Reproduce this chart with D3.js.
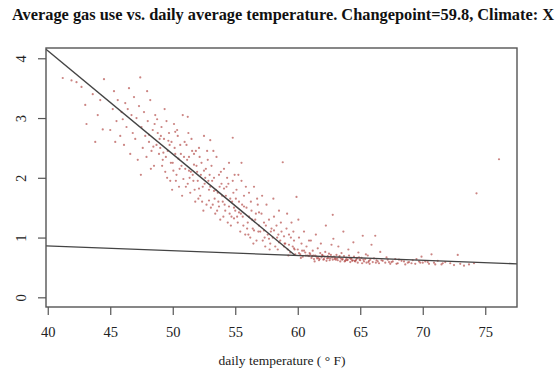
<!DOCTYPE html>
<html>
<head>
<meta charset="utf-8">
<script src="https://cdn.jsdelivr.net/npm/d3@7"></script>
<style>
    body { margin: 0; background: #fff; }
    svg { display: block; }
</style>
</head>
<body>
<svg id="chart"></svg>
<script>
// daily readings: [temperature (F), gas use]
const readings = [
    [41.2,3.67],[41.9,3.63],[42.3,3.60],[42.7,3.52],[43.0,3.22],[43.1,2.90],[43.6,3.40],[44.0,3.05],[44.4,2.81],[44.5,3.65],[44.2,3.30],[43.8,2.60],
    [45.0,2.80],[45.2,3.15],[45.3,3.45],[45.5,2.95],[45.6,3.30],[45.8,2.70],[45.9,3.10],[46.1,2.55],[46.2,3.25],[46.3,2.85],[46.5,3.50],[46.6,2.40],[46.7,3.05],[46.8,2.75],[46.9,3.35],[45.4,2.60],[46.0,2.98],[46.4,3.15],
    [47.0,2.65],[47.1,3.00],[47.2,2.30],[47.3,3.20],[47.4,3.68],[47.5,2.85],[47.6,2.50],[47.7,3.10],[47.8,2.70],[47.9,2.35],[48.0,2.95],[48.1,2.60],[48.2,3.30],[48.3,2.45],[48.4,2.80],[48.5,2.20],[48.6,3.05],[48.7,2.55],[48.8,2.75],[48.9,2.40],[47.45,2.05],[48.25,2.15],[47.95,3.45],[48.55,2.90],[48.95,2.65],
    [49.0,2.50],[49.1,2.85],[49.2,2.30],[49.3,2.65],[49.4,2.10],[49.5,2.95],[49.6,2.45],[49.7,2.75],[49.8,1.95],[49.9,2.60],[50.0,2.25],[50.1,2.90],[50.2,2.40],[50.3,2.05],[50.4,2.70],[50.5,1.85],[50.6,2.55],[50.7,2.20],[50.8,3.05],[50.9,2.35],
    [49.15,2.20],[49.35,3.15],[49.55,2.00],[49.75,2.55],[49.95,1.80],[50.15,2.50],[50.35,2.80],[50.55,2.15],[50.75,1.70],[50.95,2.60],[49.05,2.70],[49.45,2.35],[49.85,2.25],[50.25,1.95],[50.65,2.40],[50.2,2.77],
    [51.0,2.15],[51.1,2.55],[51.2,1.90],[51.3,2.35],[51.4,1.75],[51.5,2.65],[51.6,2.05],[51.7,2.40],[51.8,1.60],[51.9,2.20],[52.0,1.95],[52.1,2.50],[52.2,1.70],[52.3,2.25],[52.4,1.85],[52.5,2.70],[52.6,2.00],[52.7,1.55],[52.8,2.30],[52.9,1.80],
    [51.05,1.85],[51.25,2.75],[51.45,2.10],[51.65,1.95],[51.85,2.45],[52.05,1.65],[52.25,2.05],[52.45,1.45],[52.65,2.15],[52.85,1.95],[51.15,2.30],[51.35,2.00],[51.55,2.45],[51.75,1.80],[51.95,2.10],[52.15,2.35],[52.35,1.60],[52.55,1.90],[52.75,2.45],[52.95,2.05],[51.2,3.02],
    [53.0,1.85],[53.1,2.20],[53.2,1.55],[53.3,2.00],[53.4,1.40],[53.5,2.35],[53.6,1.75],[53.7,2.05],[53.8,1.30],[53.9,1.90],[54.0,1.60],[54.1,2.15],[54.2,1.45],[54.3,1.85],[54.4,1.25],[54.5,2.25],[54.6,1.65],[54.7,1.35],[54.8,1.95],[54.9,1.50],
    [53.05,1.50],[53.25,2.45],[53.45,1.80],[53.65,1.60],[53.85,2.10],[54.05,1.35],[54.25,1.70],[54.45,1.90],[54.65,1.20],[54.85,1.75],[53.15,1.95],[53.35,1.65],[53.55,1.45],[53.75,1.85],[53.95,1.70],[54.15,1.55],[54.35,2.00],[54.55,1.40],[54.75,1.60],[54.95,2.05],[53.0,2.63],[54.8,2.67],
    [55.0,1.45],[55.1,1.80],[55.2,1.25],[55.3,1.60],[55.4,1.10],[55.5,1.95],[55.6,1.35],[55.7,1.70],[55.8,1.05],[55.9,1.50],[56.0,1.25],[56.1,1.75],[56.2,1.00],[56.3,1.45],[56.4,1.15],[56.5,1.85],[56.6,1.30],[56.7,0.95],[56.8,1.55],[56.9,1.20],
    [55.05,1.65],[55.25,2.05],[55.45,1.40],[55.65,1.20],[55.85,1.85],[56.05,1.05],[56.25,1.60],[56.45,0.90],[56.65,1.40],[56.85,1.10],[55.15,1.35],[55.55,1.55],[55.95,1.15],[56.35,1.30],[56.75,1.65],[55.5,2.25],
    [57.0,1.10],[57.1,1.40],[57.2,0.95],[57.3,1.25],[57.4,0.85],[57.5,1.55],[57.6,1.05],[57.7,1.30],[57.8,0.90],[57.9,1.15],[58.0,1.00],[58.1,1.35],[58.2,0.85],[58.3,1.20],[58.4,0.80],[58.5,1.45],[58.6,0.95],[58.7,1.10],[58.8,2.26],[58.9,0.85],
    [57.15,1.70],[57.45,1.20],[57.75,0.80],[58.05,1.65],[58.35,1.00],[58.65,1.25],[58.95,0.90],[57.35,1.00],[57.85,1.10],[58.45,1.05],
    [59.0,0.90],[59.1,1.15],[59.2,0.80],[59.3,1.05],[59.4,0.75],[59.5,1.25],[59.6,0.85],[59.7,0.95],[59.8,0.72],[59.9,1.68],[60.0,0.80],[60.1,1.00],[60.2,0.72],[60.3,0.90],[60.4,0.68],[60.5,1.10],[60.6,0.75],[60.7,0.85],[60.8,0.70],[60.9,0.95],
    [59.15,1.40],[59.45,1.00],[59.75,0.80],[60.05,1.30],[60.35,0.78],[60.65,0.70],[60.95,0.74],[59.25,0.70],[59.65,1.10],[60.25,0.66],
    [61.0,0.72],[61.1,0.66],[61.2,0.78],[61.3,0.64],[61.4,0.70],[61.5,0.68],[61.6,0.82],[61.7,0.62],[61.8,0.74],[61.9,0.67],[62.0,0.70],[62.1,0.64],[62.2,0.76],[62.3,0.61],[62.4,0.69],[62.5,0.73],[62.6,0.65],[62.7,0.88],[62.8,0.63],[62.9,0.68],
    [63.0,0.66],[63.1,0.71],[63.2,0.62],[63.3,0.67],[63.4,0.60],[63.5,0.74],[63.6,0.64],[63.7,0.69],[63.8,0.61],[63.9,0.66],[64.0,0.63],[64.1,0.70],[64.2,0.59],[64.3,0.65],[64.4,0.62],[64.5,0.68],[64.6,0.60],[64.7,0.64],[64.8,0.58],[64.9,0.67],
    [61.05,0.95],[61.25,0.70],[61.45,1.05],[61.65,0.66],[61.85,0.90],[62.05,0.63],[62.25,1.20],[62.45,0.66],[62.65,0.71],[62.85,0.98],[63.05,0.63],[63.25,0.85],[63.45,0.65],[63.65,1.10],[63.85,0.63],[64.05,0.80],[64.25,0.64],[64.45,0.92],[64.65,0.62],[64.85,0.75],
    [61.35,0.60],[61.75,0.64],[62.15,0.68],[62.55,0.62],[62.95,0.64],[63.35,0.69],[63.75,0.60],[64.15,0.66],[64.55,0.61],[64.95,0.63],[62.8,1.38],
    [65.0,0.62],[65.1,0.66],[65.2,1.03],[65.3,0.60],[65.4,0.64],[65.5,0.58],[65.6,0.70],[65.7,0.61],[65.8,0.63],[65.9,0.88],[66.0,0.59],[66.2,1.03],[66.3,0.62],[66.5,0.57],[66.6,0.76],[66.8,0.61],[67.0,0.58],[67.2,0.63],[67.4,0.56],[67.6,0.60],
    [67.8,0.64],[68.0,0.57],[68.3,0.61],[68.6,0.55],[68.9,0.59],[69.2,0.62],[69.4,0.56],[69.7,0.60],[69.9,0.68],[70.0,0.58],[65.15,0.57],[65.45,0.72],[65.75,0.56],[66.1,0.65],[66.4,0.60],[67.1,0.67],[67.5,0.59],[68.1,0.63],[68.8,0.58],[69.5,0.64],
    [70.2,0.60],[70.5,0.56],[70.7,0.72],[70.9,0.58],[71.2,0.61],[71.5,0.55],[71.8,0.59],[72.2,0.57],[72.5,0.54],[72.8,0.71],[73.0,0.56],[73.3,0.53],[73.7,0.55],[74.1,0.57],[74.3,1.74],[76.1,2.31],
    // denser core of the cloud
    [48.1,2.72],[48.45,2.52],[48.75,2.98],[49.25,2.42],[49.65,2.62],[50.05,2.12],[50.45,2.32],[50.85,1.98],[51.3,2.12],[51.7,2.22],[52.1,1.82],[52.5,2.12],[52.9,1.62],[53.3,1.78],[53.7,1.52],
    [54.1,1.82],[54.5,1.52],[54.9,1.32],[55.3,1.42],[55.7,1.52],[56.1,1.35],[56.5,1.12],[56.9,1.42],[57.3,1.12],[57.7,0.98],[58.1,1.12],[58.5,0.92],[58.9,1.02],[59.3,0.88],[59.7,0.82],
    [60.1,0.74],[60.5,0.78],[60.9,0.69],[61.15,0.69],[61.55,0.65],[61.95,0.71],[62.35,0.65],[62.75,0.67],[63.15,0.65],[63.55,0.63],[63.95,0.62],[64.35,0.61],[64.75,0.66],[65.25,0.63],[65.65,0.59],
    [66.25,0.58],[66.7,0.62],[67.3,0.59],[67.9,0.56],[68.5,0.60],[69.1,0.57],[69.8,0.58],[70.4,0.59],[71.0,0.55],[71.6,0.57]
];

// fitted changepoint model (heating leg + flat base load)
const heatingLine = [[39.86, 4.15], [59.8, 0.70]];
const baseLine = [[39.86, 0.86], [77.54, 0.56]];

const xTicks = [40, 45, 50, 55, 60, 65, 70, 75];
const yTicks = [0, 1, 2, 3, 4];

const titleText = 'Average gas use vs. daily average temperature. Changepoint=59.8, Climate: X';
const xLabelText = 'daily temperature ( \u00b0 F)';

const width = 556, height = 371;
const margin = { top: 48, right: 39, bottom: 64, left: 46 };

const svg = d3.select('#chart')
    .attr('width', width)
    .attr('height', height)
    .style('font-family', '"Liberation Serif", "DejaVu Serif", serif');

// scales, R style padded domains
const x = d3.scaleLinear()
    .domain([39.86, 77.54])
    .range([margin.left, width - margin.right]);

const y = d3.scaleLinear()
    .domain([-0.162, 4.172])
    .range([height - margin.bottom, margin.top]);

// title
svg.append('text')
    .attr('x', 12)
    .attr('y', 20)
    .attr('font-size', 16)
    .attr('font-weight', 'bold')
    .attr('fill', '#111')
    .attr('textLength', 542)
    .attr('lengthAdjust', 'spacingAndGlyphs')
    .text(titleText);

// points
svg.append('g')
    .selectAll('circle')
    .data(readings)
    .join('circle')
    .attr('cx', d => x(d[0]))
    .attr('cy', d => y(d[1]))
    .attr('r', 1.1)
    .attr('fill', '#a8322f')
    .attr('fill-opacity', 0.6);

// model lines
const line = d3.line()
    .x(d => x(d[0]))
    .y(d => y(d[1]));

svg.append('g')
    .selectAll('path')
    .data([heatingLine, baseLine])
    .join('path')
    .attr('d', line)
    .attr('fill', 'none')
    .attr('stroke', '#444')
    .attr('stroke-width', 1.4);

// axes
const xAxis = svg.append('g')
    .attr('transform', `translate(0, ${height - margin.bottom})`)
    .call(d3.axisBottom(x).tickValues(xTicks).tickSize(8).tickPadding(12));

const yAxis = svg.append('g')
    .attr('transform', `translate(${margin.left}, 0)`)
    .call(d3.axisLeft(y).tickValues(yTicks).tickFormat(d3.format('d')).tickSize(8).tickPadding(10));

[xAxis, yAxis].forEach(a => {
    a.select('.domain').remove();
    a.selectAll('line').attr('stroke', '#555').attr('stroke-width', 1.2);
    a.selectAll('text')
        .attr('font-size', 14.5)
        .attr('fill', '#222')
        .style('font-family', '"Liberation Serif", serif');
});

// y labels rotated like base R
yAxis.selectAll('.tick text')
    .attr('x', null)
    .attr('dy', null)
    .attr('text-anchor', 'middle')
    .attr('transform', 'translate(-20, 0) rotate(-90)');

// box
svg.append('rect')
    .attr('x', margin.left)
    .attr('y', margin.top)
    .attr('width', width - margin.left - margin.right)
    .attr('height', height - margin.top - margin.bottom)
    .attr('fill', 'none')
    .attr('stroke', '#555')
    .attr('stroke-width', 1.4);

// x label
svg.append('text')
    .attr('x', 282)
    .attr('y', 365)
    .attr('text-anchor', 'middle')
    .attr('font-size', 13.5)
    .attr('fill', '#222')
    .text(xLabelText);
</script>
</body>
</html>
